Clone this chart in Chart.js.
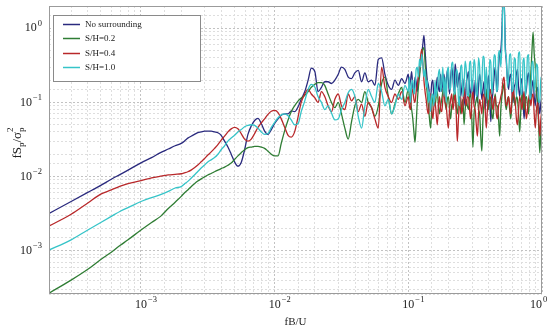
<!DOCTYPE html>
<html>
<head>
<meta charset="utf-8">
<script src="https://cdn.jsdelivr.net/npm/chart.js@4.4.1/dist/chart.umd.min.js"></script>
<style>
  html, body { margin: 0; padding: 0; background: #fff; }
  #wrap { width: 550px; height: 332px; }
</style>
</head>
<body>
<div id="wrap"><canvas id="spectrum"></canvas></div>
<script>
// Reduced frequency fB/U (shared by all series)
const freq = [
    0.0002, 0.0003, 0.0004, 0.0005, 0.0006, 0.0007, 0.0008, 0.001, 0.0012, 0.0014, 0.0016, 0.0018,
    0.002, 0.00211, 0.00224, 0.00237, 0.00251, 0.00266, 0.00282, 0.00299, 0.00316, 0.00335, 0.00355, 0.00376, 0.00398, 0.00422,
    0.00447, 0.00473, 0.00501, 0.00531, 0.00562, 0.00596, 0.00631, 0.00668, 0.00708, 0.0075, 0.00794, 0.00841, 0.00891, 0.00944,
    0.01, 0.0106, 0.0112, 0.0119, 0.0126, 0.0133, 0.0141, 0.015, 0.0158, 0.0168, 0.0178, 0.0188, 0.02, 0.0211,
    0.0224, 0.0237, 0.0251, 0.0266, 0.0282, 0.0299, 0.0316, 0.0335, 0.0355, 0.0376, 0.0398, 0.0422, 0.0447, 0.0473,
    0.0501, 0.0531, 0.0562, 0.0596, 0.0631, 0.0668, 0.0708, 0.075, 0.0794, 0.0841, 0.0891, 0.0944,
    0.1, 0.1019, 0.1039, 0.1059, 0.108, 0.1101, 0.1122, 0.1144, 0.1166, 0.1189,
    0.1212, 0.1235, 0.1259, 0.1283, 0.1308, 0.1334, 0.1359, 0.1386, 0.1413, 0.144,
    0.1468, 0.1496, 0.1526, 0.1555, 0.1585, 0.1616, 0.1647, 0.1679, 0.1711, 0.1745,
    0.1778, 0.1813, 0.1848, 0.1884, 0.192, 0.1957, 0.1995, 0.2034, 0.2073, 0.2113,
    0.2154, 0.2196, 0.2239, 0.2282, 0.2326, 0.2371, 0.2417, 0.2464, 0.2512, 0.2561,
    0.261, 0.2661, 0.2712, 0.2765, 0.2818, 0.2873, 0.2929, 0.2985, 0.3043, 0.3102,
    0.3162, 0.3224, 0.3286, 0.335, 0.3415, 0.3481, 0.3548, 0.3617, 0.3687, 0.3758,
    0.3831, 0.3905, 0.3981, 0.4058, 0.4137, 0.4217, 0.4299, 0.4382, 0.4467, 0.4553,
    0.4642, 0.4732, 0.4824, 0.4917, 0.5012, 0.5109, 0.5208, 0.5309, 0.5412, 0.5517,
    0.5623, 0.5732, 0.5843, 0.5957, 0.6072, 0.619, 0.631, 0.6432, 0.6556, 0.6683,
    0.6813, 0.6945, 0.7079, 0.7217, 0.7356, 0.7499, 0.7644, 0.7792, 0.7943, 0.8097,
    0.8254, 0.8414, 0.8577, 0.8743, 0.8913, 0.9085, 0.9261, 0.9441, 0.9624, 0.981,
    1.0
];

// fSp / sigma_p^2 for each case
const noSurrounding = [
    0.0031, 0.0046, 0.0061, 0.0076, 0.0092, 0.0107, 0.0122, 0.0153, 0.018, 0.021, 0.0235, 0.026,
    0.028, 0.030, 0.033, 0.035, 0.037, 0.039, 0.040, 0.041, 0.041, 0.041, 0.040, 0.039, 0.036, 0.030,
    0.025, 0.020, 0.0158, 0.0138, 0.0155, 0.023, 0.037, 0.048, 0.057, 0.061, 0.052, 0.041, 0.037, 0.043,
    0.052, 0.060, 0.067, 0.070, 0.070, 0.077, 0.075, 0.088, 0.11, 0.14, 0.20, 0.29, 0.26, 0.14,
    0.16, 0.19, 0.19, 0.18, 0.20, 0.24, 0.30, 0.28, 0.22, 0.21, 0.25, 0.27, 0.19, 0.25,
    0.19, 0.20, 0.17, 0.38, 0.40, 0.24, 0.17, 0.15, 0.20, 0.17, 0.21, 0.18,
    0.24, 0.16, 0.20, 0.26, 0.16, 0.13, 0.22, 0.19, 0.14, 0.22,
    0.25, 0.35, 0.45, 0.60, 0.80, 0.50, 0.30, 0.20, 0.17, 0.13,
    0.12, 0.18, 0.20, 0.11, 0.13, 0.16, 0.22, 0.16, 0.14, 0.24,
    0.14, 0.20, 0.24, 0.16, 0.18, 0.27, 0.20, 0.13, 0.22, 0.30,
    0.22, 0.14, 0.33, 0.25, 0.16, 0.20, 0.25, 0.12, 0.16, 0.21,
    0.12, 0.09, 0.18, 0.22, 0.26, 0.15, 0.12, 0.20, 0.17, 0.10,
    0.20, 0.14, 0.10, 0.17, 0.24, 0.18, 0.11, 0.15, 0.19, 0.08,
    0.12, 0.16, 0.23, 0.12, 0.055, 0.10, 0.14, 0.22, 0.30, 0.20,
    0.14, 0.30, 0.45, 0.50, 0.9, 2.5, 2.5, 0.6, 0.35, 0.20,
    0.15, 0.22, 0.24, 0.14, 0.10, 0.16, 0.18, 0.24, 0.28, 0.16,
    0.12, 0.18, 0.21, 0.10, 0.06, 0.12, 0.15, 0.22, 0.25, 0.16,
    0.11, 0.16, 0.20, 0.12, 0.09, 0.14, 0.16, 0.10, 0.07, 0.10,
    0.12
];
const sh02 = [
    0.00026, 0.0004, 0.00056, 0.00076, 0.00095, 0.00118, 0.0014, 0.0019, 0.0024, 0.0029, 0.0037, 0.0045,
    0.0054, 0.006, 0.0066, 0.0073, 0.008, 0.0087, 0.0093, 0.0099, 0.0105, 0.011, 0.0116, 0.0122, 0.0128, 0.0134,
    0.0142, 0.0152, 0.017, 0.019, 0.021, 0.023, 0.0245, 0.025, 0.0255, 0.0255, 0.025, 0.024, 0.022, 0.020,
    0.019, 0.019, 0.028, 0.042, 0.058, 0.075, 0.090, 0.105, 0.115, 0.125, 0.14, 0.16, 0.175, 0.185,
    0.185, 0.17, 0.13, 0.10, 0.085, 0.10, 0.07, 0.045, 0.032, 0.055, 0.09, 0.11, 0.10, 0.14,
    0.10, 0.085, 0.065, 0.09, 0.18, 0.22, 0.12, 0.07, 0.095, 0.13, 0.16, 0.10,
    0.15, 0.12, 0.10, 0.08, 0.06, 0.04, 0.029, 0.05, 0.10, 0.16,
    0.22, 0.33, 0.45, 0.52, 0.55, 0.35, 0.20, 0.13, 0.09, 0.06,
    0.045, 0.08, 0.12, 0.10, 0.09, 0.12, 0.14, 0.09, 0.07, 0.09,
    0.11, 0.14, 0.16, 0.10, 0.08, 0.11, 0.12, 0.08, 0.06, 0.09,
    0.10, 0.13, 0.14, 0.09, 0.07, 0.10, 0.12, 0.07, 0.09, 0.11,
    0.05, 0.08, 0.11, 0.09, 0.08, 0.12, 0.13, 0.06, 0.025, 0.07,
    0.09, 0.11, 0.12, 0.08, 0.07, 0.035, 0.022, 0.06, 0.10, 0.13,
    0.15, 0.10, 0.08, 0.12, 0.11, 0.07, 0.06, 0.10, 0.13, 0.09,
    0.09, 0.06, 0.035, 0.08, 0.12, 0.15, 0.18, 0.10, 0.08, 0.11,
    0.12, 0.08, 0.06, 0.10, 0.14, 0.11, 0.09, 0.12, 0.11, 0.07,
    0.04, 0.08, 0.13, 0.10, 0.08, 0.11, 0.12, 0.09, 0.07, 0.15,
    0.25, 0.50, 0.89, 0.45, 0.30, 0.14, 0.10, 0.05, 0.021, 0.04,
    0.06
];
const sh04 = [
    0.0021, 0.0031, 0.0044, 0.0058, 0.0066, 0.0074, 0.008, 0.0088, 0.0096, 0.0101, 0.0105, 0.0107,
    0.0109, 0.0112, 0.0116, 0.0122, 0.0131, 0.0143, 0.0158, 0.0175, 0.0195, 0.0215, 0.024, 0.027, 0.031, 0.035,
    0.040, 0.044, 0.046, 0.044, 0.038, 0.032, 0.030, 0.032, 0.038, 0.046, 0.053, 0.060, 0.069, 0.076,
    0.078, 0.073, 0.060, 0.046, 0.036, 0.034, 0.040, 0.065, 0.10, 0.13, 0.15, 0.13, 0.115, 0.10,
    0.14, 0.12, 0.09, 0.075, 0.11, 0.13, 0.09, 0.08, 0.13, 0.105, 0.12, 0.075, 0.095, 0.065,
    0.10, 0.085, 0.06, 0.045, 0.30, 0.16, 0.12, 0.10, 0.13, 0.11, 0.14, 0.09,
    0.12, 0.09, 0.08, 0.13, 0.15, 0.11, 0.10, 0.14, 0.17, 0.22,
    0.30, 0.42, 0.52, 0.35, 0.20, 0.14, 0.11, 0.08, 0.07, 0.10,
    0.13, 0.08, 0.06, 0.09, 0.10, 0.07, 0.05, 0.09, 0.12, 0.08,
    0.075, 0.11, 0.14, 0.10, 0.09, 0.06, 0.045, 0.08, 0.11, 0.13,
    0.08, 0.10, 0.13, 0.07, 0.03, 0.06, 0.10, 0.12, 0.07, 0.09,
    0.16, 0.11, 0.09, 0.12, 0.12, 0.08, 0.06, 0.10, 0.14, 0.09,
    0.08, 0.05, 0.035, 0.07, 0.11, 0.09, 0.07, 0.12, 0.13, 0.08,
    0.045, 0.08, 0.10, 0.13, 0.15, 0.10, 0.08, 0.11, 0.12, 0.07,
    0.06, 0.09, 0.10, 0.12, 0.14, 0.20, 0.22, 0.12, 0.09, 0.10,
    0.12, 0.09, 0.07, 0.11, 0.15, 0.12, 0.10, 0.06, 0.05, 0.08,
    0.12, 0.10, 0.08, 0.11, 0.14, 0.09, 0.06, 0.08, 0.11, 0.13,
    0.09, 0.12, 0.13, 0.07, 0.045, 0.08, 0.10, 0.06, 0.035, 0.06,
    0.08
];
const sh10 = [
    0.001, 0.0014, 0.0019, 0.0024, 0.0029, 0.0034, 0.0038, 0.0046, 0.0052, 0.0057, 0.0063, 0.0070,
    0.0073, 0.0079, 0.0086, 0.0095, 0.0105, 0.0117, 0.013, 0.0143, 0.0157, 0.0168, 0.018, 0.020, 0.023, 0.026,
    0.030, 0.033, 0.036, 0.040, 0.043, 0.047, 0.049, 0.050, 0.049, 0.045, 0.040, 0.037, 0.038, 0.046,
    0.054, 0.062, 0.068, 0.070, 0.066, 0.058, 0.050, 0.052, 0.075, 0.105, 0.15, 0.175, 0.16, 0.12,
    0.10, 0.08, 0.09, 0.072, 0.058, 0.060, 0.080, 0.10, 0.135, 0.15, 0.12, 0.065, 0.045, 0.09,
    0.15, 0.12, 0.10, 0.18, 0.14, 0.09, 0.11, 0.07, 0.09, 0.13, 0.11, 0.17,
    0.14, 0.22, 0.10, 0.18, 0.20, 0.13, 0.15, 0.28, 0.30, 0.22,
    0.38, 0.30, 0.45, 0.34, 0.22, 0.28, 0.16, 0.20, 0.10, 0.14,
    0.075, 0.12, 0.13, 0.09, 0.20, 0.12, 0.15, 0.24, 0.28, 0.14,
    0.18, 0.30, 0.12, 0.22, 0.10, 0.26, 0.30, 0.15, 0.16, 0.33,
    0.35, 0.13, 0.13, 0.28, 0.26, 0.11, 0.09, 0.30, 0.32, 0.12,
    0.17, 0.36, 0.28, 0.13, 0.12, 0.34, 0.36, 0.14, 0.20, 0.38,
    0.30, 0.12, 0.14, 0.40, 0.30, 0.13, 0.18, 0.42, 0.40, 0.12,
    0.30, 0.14, 0.11, 0.38, 0.35, 0.13, 0.20, 0.44, 0.42, 0.14,
    0.15, 0.46, 0.50, 0.30, 0.6, 2.5, 2.5, 0.5, 0.40, 0.16,
    0.22, 0.44, 0.45, 0.14, 0.15, 0.40, 0.38, 0.12, 0.20, 0.46,
    0.48, 0.13, 0.13, 0.36, 0.40, 0.12, 0.18, 0.42, 0.44, 0.11,
    0.12, 0.34, 0.36, 0.14, 0.20, 0.33, 0.30, 0.10, 0.10, 0.22,
    0.15
];

const seriesLabels = ['No surrounding', 'S/H=0.2', 'S/H=0.4', 'S/H=1.0'];
const seriesColors = ['#2a2a7e', '#2f7d34', '#b8282a', '#36c4c8'];
const drawOrder = [3, 2, 1, 0]; // cyan drawn on top

const xRange = [2.05e-4, 1.0];
const yRange = [2.6e-4, 2.0];
const xTickValues = [0.001, 0.01, 0.1, 1];
const xTickLabels = [['10', '−3'], ['10', '−2'], ['10', '−1'], ['10', '0']];
const yTickValues = [0.001, 0.01, 0.1, 1];
const yTickLabels = [['10', '−3'], ['10', '−2'], ['10', '−1'], ['10', '0']];

const SERIF = '"Liberation Serif", "DejaVu Serif", serif';
Chart.defaults.font.family = SERIF;
Chart.defaults.color = '#222';

const gridColor = (c) => (c.tick && c.tick.major ? '#c2c2c2' : '#dedede');

// "10" with a raised exponent; anchor 'center' puts the base on x, 'right' ends the label at x
function drawPower(ctx, label, x, y, anchor) {
    const big = '12px ' + SERIF, small = '8.5px ' + SERIF;
    ctx.font = big;
    const wb = ctx.measureText(label[0]).width;
    ctx.font = small;
    const we = ctx.measureText(label[1]).width;
    const x0 = anchor === 'center' ? x - wb / 2 : x - wb - we - 1;
    ctx.textBaseline = 'middle';
    ctx.textAlign = 'left';
    ctx.font = big;
    ctx.fillText(label[0], x0, y);
    ctx.font = small;
    ctx.fillText(label[1], x0 + wb + 1, y - 5);
}

function drawYTitle(ctx, cx, cy) {
    const big = '13px ' + SERIF;
    const small = '9px ' + SERIF;
    ctx.save();
    ctx.translate(cx, cy);
    ctx.rotate(-Math.PI / 2);
    ctx.fillStyle = '#222';
    ctx.textBaseline = 'alphabetic';
    ctx.textAlign = 'left';
    ctx.font = big;
    const w1 = ctx.measureText('fS').width;
    const w3 = ctx.measureText('/σ').width;
    ctx.font = small;
    const wp = ctx.measureText('p').width;
    const total = w1 + wp + w3 + wp;
    let x = -total / 2;
    const base = 4;
    ctx.font = big; ctx.fillText('fS', x, base); x += w1;
    ctx.font = small; ctx.fillText('p', x, base + 3); x += wp;
    ctx.font = big; ctx.fillText('/σ', x, base); x += w3;
    ctx.font = small; ctx.fillText('p', x, base + 3); ctx.fillText('2', x, base - 8);
    ctx.restore();
}

// Frame, tick labels, in-plot legend box and the y-axis title
const decorations = {
    id: 'decorations',
    afterDraw(chart) {
        const { ctx, chartArea: a } = chart;
        const xs = chart.scales.x, ys = chart.scales.y;
        ctx.save();
        ctx.strokeStyle = '#9b9b9b';
        ctx.lineWidth = 1;
        ctx.strokeRect(Math.round(a.left) + 0.5, Math.round(a.top) + 0.5,
            Math.round(a.right - a.left) - 1, Math.round(a.bottom - a.top) - 1);

        ctx.fillStyle = '#222';
        xTickValues.forEach((v, i) => {
            const px = Math.min(xs.getPixelForValue(v), a.right - 6);
            drawPower(ctx, xTickLabels[i], px, a.bottom + 11, 'center');
        });
        yTickValues.forEach((v, i) => {
            drawPower(ctx, yTickLabels[i], a.left - 7, ys.getPixelForValue(v), 'right');
        });

        const bx = Math.round(a.left) + 4, by = Math.round(a.top) + 9;
        ctx.fillStyle = '#fff';
        ctx.fillRect(bx, by, 147, 66);
        ctx.strokeStyle = '#8a8a8a';
        ctx.strokeRect(bx + 0.5, by + 0.5, 147, 66);
        ctx.font = '9px ' + SERIF;
        ctx.textBaseline = 'middle';
        ctx.textAlign = 'left';
        chart.data.datasets.forEach((ds, i) => {
            const y = Math.round(by + 9 + i * 14.3) + 0.5;
            ctx.strokeStyle = ds.borderColor;
            ctx.lineWidth = 1.5;
            ctx.beginPath();
            ctx.moveTo(bx + 10, y);
            ctx.lineTo(bx + 27, y);
            ctx.stroke();
            ctx.fillStyle = '#222';
            ctx.fillText(ds.label, bx + 32, y);
        });
        ctx.restore();

        drawYTitle(ctx, 17, 143);
    }
};

const seriesData = [noSurrounding, sh02, sh04, sh10];

new Chart(document.getElementById('spectrum'), {
    type: 'line',
    data: {
        datasets: seriesData.map((vals, i) => ({
            label: seriesLabels[i],
            data: freq.map((f, k) => ({ x: f, y: vals[k] })),
            borderColor: seriesColors[i],
            borderWidth: 1.3,
            pointRadius: 0,
            fill: false,
            cubicInterpolationMode: 'monotone',
            order: drawOrder[i]
        }))
    },
    options: {
        responsive: true,
        maintainAspectRatio: false,
        animation: false,
        events: [],
        layout: { padding: { top: 6, right: 8, left: 0, bottom: 0 } },
        plugins: {
            legend: { display: false },
            tooltip: { enabled: false }
        },
        scales: {
            x: {
                type: 'logarithmic',
                min: xRange[0],
                max: xRange[1],
                afterFit(s) { s.height = 38; s.paddingLeft = 0; s.paddingRight = 0; },
                ticks: { display: false, autoSkip: false, maxRotation: 0 },
                grid: { color: gridColor, lineWidth: 1, drawTicks: false },
                border: { display: false, dash: [2, 2] },
                title: {
                    display: true, text: 'fB/U',
                    font: { size: 11 },
                    padding: { top: 0, bottom: 3 }
                }
            },
            y: {
                type: 'logarithmic',
                min: yRange[0],
                max: yRange[1],
                afterFit(s) { s.width = 49; s.paddingTop = 0; s.paddingBottom = 0; },
                ticks: { display: false, autoSkip: false },
                grid: { color: gridColor, lineWidth: 1, drawTicks: false },
                border: { display: false, dash: [2, 2] }
            }
        }
    },
    plugins: [decorations]
});
</script>
</body>
</html>
